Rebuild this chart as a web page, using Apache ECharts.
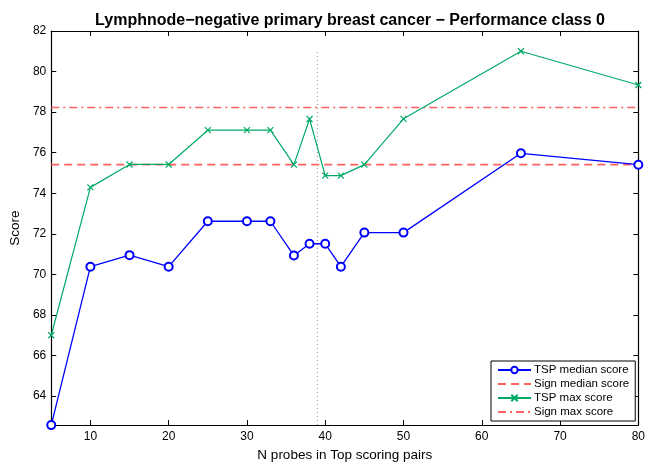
<!DOCTYPE html>
<html><head><meta charset="utf-8">
<script src="https://cdn.jsdelivr.net/npm/echarts@6/dist/echarts.min.js"></script>
<style>html,body{margin:0;padding:0;background:#fff}#c{width:648px;height:467px}</style>
</head><body><div id="c"></div>
<script>
var nProbes = [5,10,15,20,25,30,33,36,38,40,42,45,50,65,80];
var tspMedian = [62.57,70.38,70.95,70.38,72.62,72.62,72.62,70.93,71.51,71.51,70.38,72.06,72.06,75.97,75.41];
var tspMax = [67.0,74.29,75.42,75.42,77.11,77.11,77.11,75.41,77.66,74.87,74.87,75.41,77.67,81.0,79.34];
var signMedian = 75.41;
var signMax = 78.23;
var cutoffX = 39;
var cutoffTop = 81;
var xTicks = [10,20,30,40,50,60,70,80];
var yTicks = [64,66,68,70,72,74,76,78,80,82];
var xMin = 5, xMax = 80, yMin = 62.57, yMax = 82;

var font = 'Liberation Sans, Arial, sans-serif';
var red = '#ff6060', green = '#00aa66', blue = '#0000ff';
function pairs(xs, ys){ return xs.map(function(x,i){return [x, ys[i]];}); }

var chart = echarts.init(document.getElementById('c'), null, {renderer:'canvas'});
var axisCommon = {
  min: xMin, max: xMax, type: 'value',
  axisLine: {show:true, onZero:false, lineStyle:{color:'#000', width:1.2}},
  splitLine: {show:false}
};
chart.setOption({
  animation: false,
  backgroundColor: '#fff',
  title: {
    text: 'Lymphnode\u2212negative primary breast cancer \u2212 Performance class 0',
    left: 345, top: 8, textAlign: 'center',
    textStyle: {fontFamily: font, fontSize: 16, fontWeight: 'bold', color: '#000'}
  },
  grid: {left: 48.8, right: 6.3, top: 31, bottom: 40.3, containLabel: false},
  legend: {
    orient: 'vertical', left: 491, top: 361, width: 145,
    padding: [3, 6, 3, 6], itemGap: 2, itemWidth: 33, itemHeight: 8,
    backgroundColor: '#fff', borderColor: '#000', borderWidth: 1,
    textStyle: {fontFamily: font, fontSize: 11.5, lineHeight: 12, color: '#000', padding:[0,0,0,-2]},
    data: [
      {name:'TSP median score'},
      {name:'Sign median score', itemStyle:{opacity:0}},
      {name:'TSP max score'},
      {name:'Sign max score', itemStyle:{opacity:0}}
    ]
  },
  xAxis: [
    Object.assign({}, axisCommon, {
      position: 'bottom',
      name: 'N probes in Top scoring pairs', nameLocation: 'middle', nameGap: 21,
      nameTextStyle: {fontFamily: font, fontSize: 13.5, color: '#000'},
      axisTick: {show:true, inside:true, length:5, customValues: xTicks, lineStyle:{color:'#000'}},
      axisLabel: {show:true, customValues: xTicks, fontFamily: font, fontSize: 12, color:'#000', margin: 6}
    }),
    Object.assign({}, axisCommon, {
      position: 'top',
      axisTick: {show:true, inside:true, length:5, customValues: xTicks, lineStyle:{color:'#000'}},
      axisLabel: {show:false}
    })
  ],
  yAxis: [
    {
      type:'value', min: yMin, max: yMax, position: 'left',
      name: 'Score', nameLocation: 'middle', nameGap: 24, nameRotate: 90,
      nameTextStyle: {fontFamily: font, fontSize: 13.5, color: '#000'},
      axisLine: {show:true, onZero:false, lineStyle:{color:'#000', width:1.2}},
      axisTick: {show:true, inside:true, length:5, customValues: yTicks, lineStyle:{color:'#000'}},
      axisLabel: {show:true, customValues: yTicks, fontFamily: font, fontSize: 12, color:'#000', margin: 5},
      splitLine: {show:false}
    },
    {
      type:'value', min: yMin, max: yMax, position: 'right',
      axisLine: {show:true, onZero:false, lineStyle:{color:'#000', width:1.2}},
      axisTick: {show:true, inside:true, length:5, customValues: yTicks, lineStyle:{color:'#000'}},
      axisLabel: {show:false},
      splitLine: {show:false}
    }
  ],
  series: [
    {
      name: 'cutoff', type: 'line', data: [[cutoffX, yMin],[cutoffX, cutoffTop]],
      symbol: 'none', silent: true,
      lineStyle: {color: '#888', width: 1, type: [1, 3]}, z: 1
    },
    {
      name: 'Sign median score', type: 'line', data: [[xMin, signMedian],[xMax, signMedian]],
      symbol: 'none', itemStyle: {color: red},
      lineStyle: {color: red, width: 1.6, type: [8, 5]}, z: 2
    },
    {
      name: 'Sign max score', type: 'line', data: [[xMin, signMax],[xMax, signMax]],
      symbol: 'none', itemStyle: {color: red},
      lineStyle: {color: red, width: 1.6, type: [8, 4, 2, 4]}, z: 2
    },
    {
      name: 'TSP max score', type: 'line', data: pairs(nProbes, tspMax),
      symbol: 'path://M0,0L10,10M10,0L0,10', symbolSize: 6, showAllSymbol: true,
      itemStyle: {color: green, borderColor: green, borderWidth: 1.2},
      lineStyle: {color: green, width: 1.2}, z: 3
    },
    {
      name: 'TSP median score', type: 'line', data: pairs(nProbes, tspMedian),
      symbol: 'emptyCircle', symbolSize: 8, showAllSymbol: true,
      itemStyle: {color: blue, borderColor: blue, borderWidth: 1.2},
      lineStyle: {color: blue, width: 1.3}, z: 4
    }
  ]
});
</script></body></html>
